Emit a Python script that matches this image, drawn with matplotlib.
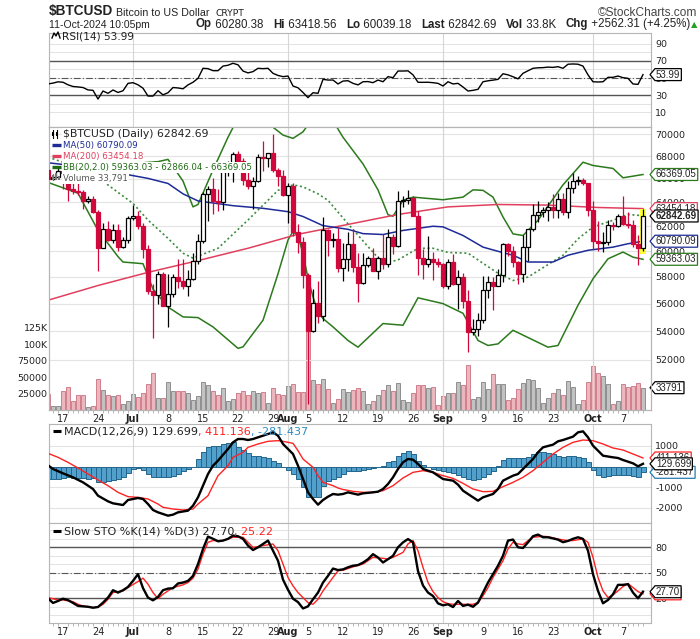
import numpy as np
import matplotlib
matplotlib.use("Agg")
import matplotlib.pyplot as plt
from matplotlib.patches import Rectangle
from matplotlib.lines import Line2D
from matplotlib.path import Path
from matplotlib.ticker import NullLocator, FixedLocator

# day 0 = Mon 17 Jun 2024; the series runs Fri 14 Jun (-3) .. Fri 11 Oct 2024 (116)
first_day = -3

opens = [66750, 66010, 66190, 66640, 66490, 65140, 64960, 64830, 64100, 64260,
         63160, 60280, 61800, 60860, 61680, 60320, 60890,
         62680, 62850, 62030, 60170, 56900, 56660, 58230, 55850, 56700, 58000,
         57700, 57350, 57880, 59200, 60800, 64700, 65100, 64100, 63980, 66700,
         67150, 68170, 67580, 65930, 65370, 65800, 67900, 67810, 68240, 66800, 66200,
         64620, 65350, 61500, 60700, 58120, 54020, 56030, 55130, 61710, 60880,
         60950, 58710, 59350, 60600, 58740, 57560, 58880, 59480, 58480, 59490,
         59010, 61160, 60380, 64090, 64180, 64330, 62880, 59500, 59030, 59360, 59120,
         58970, 57300, 59130, 57480, 57970, 56160, 53960, 54150, 54840, 57040,
         57650, 57340, 58130, 60570, 60000, 59180, 58200, 60310, 61760, 62950,
         63200, 63350, 63580, 63330, 64260, 63140, 65180, 65800, 65880, 65600,
         63330, 60800, 60630, 60750, 62080, 62060, 62820, 62220, 62130, 60580, 60280.38]
highs = [67300, 66400, 66990, 67250, 66560, 65700, 66480, 65070, 64500, 64500,
         63370, 62300, 62440, 62200, 62150, 61100, 62880,
         63780, 63250, 62260, 60490, 57500, 58470, 58380, 58200, 58260, 59420,
         59400, 58500, 59820, 61400, 64900, 65370, 66100, 65100, 67400, 67600,
         68400, 68480, 67800, 67100, 66150, 68200, 69400, 68300, 70000, 66980, 66800,
         65600, 65600, 62200, 61100, 58300, 57050, 57720, 62730, 61800, 61460,
         61840, 60680, 61570, 61780, 59850, 59850, 59650, 60270, 59600, 61400,
         61800, 61400, 64950, 64500, 65000, 64480, 63240, 60200, 61180, 59900, 59440,
         59060, 59420, 59800, 58500, 58300, 56990, 54850, 55300, 58100, 58040,
         57990, 58580, 60650, 60610, 60390, 59210, 61320, 61790, 63870, 64100,
         63550, 64000, 64700, 64800, 64800, 65800, 66500, 66260, 66070, 65650,
         64130, 62400, 61500, 62480, 62370, 62970, 64480, 63200, 62530, 61300, 63418.56]
lows = [65050, 65870, 66060, 65100, 64060, 64700, 64560, 63400, 63940, 63080,
        58470, 60240, 60820, 60660, 60050, 60290, 60630,
        62520, 61800, 59450, 56750, 53500, 56000, 55800, 54300, 56500, 57170,
        57100, 56600, 57760, 59000, 60630, 62400, 63000, 63240, 63300, 66230,
        65750, 66600, 65450, 65100, 63440, 65750, 66700, 67070, 66550, 65330, 64500,
        62300, 61200, 59850, 57200, 49050, 53950, 54580, 54730, 59600, 60300,
        58410, 57670, 58480, 58400, 56100, 57450, 58800, 58430, 57850, 58600,
        58800, 59800, 60350, 63600, 63800, 62850, 58130, 57860, 58800, 57800, 58750,
        57200, 57120, 57420, 55600, 55700, 52550, 53750, 53650, 54600, 56400,
        55560, 57340, 57650, 59600, 58730, 57490, 57650, 59200, 61600, 62380,
        62790, 62400, 62660, 62700, 62960, 62670, 64800, 65420, 65430, 62880,
        60200, 59990, 59900, 60470, 61700, 61900, 62130, 61840, 60300, 58900, 60039.18]
closes = [66010, 66190, 66640, 66490, 65140, 64960, 64830, 64100, 64260, 63160,
          60280, 61800, 60860, 61680, 60320, 60890, 62680,
          62850, 62030, 60170, 56900, 56660, 58230, 55850, 56700, 58000, 57700,
          57350, 57880, 59200, 60800, 64700, 65100, 64100, 63980, 66700, 67150,
          68170, 67580, 65930, 65370, 65800, 67900, 67810, 68240, 66800, 66200, 64620,
          65350, 61500, 60700, 58120, 54020, 56030, 55130, 61710, 60880, 60950,
          58710, 59350, 60600, 58740, 57560, 58880, 59480, 58480, 59490, 59010,
          61160, 60380, 64090, 64180, 64330, 62880, 59500, 59030, 59360, 59120, 58970,
          57300, 59130, 57480, 57970, 56160, 53960, 54150, 54840, 57040, 57650,
          57340, 58130, 60570, 60000, 59180, 58200, 60310, 61760, 62950, 63200,
          63350, 63580, 63330, 64260, 63140, 65180, 65800, 65880, 65600, 63330,
          60800, 60630, 60750, 62080, 62060, 62820, 62220, 62130, 60580, 60280, 62842.69]
volumes = [24500, 6800, 6800, 29500, 35600, 12900, 22000, 22000, 5300, 6800,
           47200, 31000, 23000, 21500, 23000, 9300, 12900,
           24500, 19400, 26000, 39600, 56300, 18600, 18600, 42700, 29500, 28700,
           29500, 26000, 14400, 20500, 43000, 38100, 28700, 22000, 33600, 12900,
           16900, 26000, 29500, 22000, 29500, 25500, 27000, 10900, 33600, 24500, 23000,
           37100, 39600, 27000, 28000, 130000, 44700, 39600, 47200, 32000, 10900,
           16900, 32000, 27500, 30600, 34000, 29000, 9800, 13900, 23000, 30600,
           38100, 29000, 41100, 15400, 11400, 25500, 38100, 38100, 33000, 35100, 7800,
           21500, 25500, 26500, 42700, 38100, 68500, 16400, 19000, 42700, 31600,
           55300, 39700, 39700, 14400, 18500, 32000, 40600, 47200, 45700, 33600,
           10900, 18500, 26000, 32000, 23000, 43200, 35600, 9400, 14400, 42200,
           67400, 55800, 50800, 39700, 9400, 13400, 39700, 35600, 37100, 41200, 33791]

# overlays: (day, value) vertices
ma50_days = [-3, 5, 13, 17, 21, 24, 27, 34, 40, 45, 48, 52, 57, 60, 64, 68, 74, 76, 80, 84, 87, 90, 93, 98, 101, 105, 110, 113, 116]
ma50_vals = [67400, 67000, 66350, 66030, 65590, 64700, 64100, 63700, 63480, 63200, 62800, 62050, 61750, 61400,
             61330, 61660, 62000, 61950, 61250, 60320, 59990, 59680, 59150, 59150, 59680, 60070, 60320, 60590, 60790.09]
ma200_days = [-3, 7, 17, 27, 37, 47, 57, 67, 77, 87, 97, 107, 116]
ma200_vals = [56250, 57350, 58350, 59260, 60230, 61350, 62150, 62970, 63600, 63800, 63750, 63550, 63454.18]
bb_up_days = [-3, 7, 11, 16, 19, 21, 24, 26, 27, 30, 33, 35, 41, 44, 46, 48, 50, 53, 56, 60, 63, 65, 66, 68, 70,
              76, 80, 82, 84, 86, 88, 90, 92, 95, 100, 104, 106, 110, 112, 116]
bb_up_vals = [71500, 69500, 68200, 67400, 67500, 67700, 65800, 63600, 63800, 66760, 69700, 71500, 71000, 69900,
              69600, 70200, 71500, 72000, 69700, 67300, 65040, 62950, 62820, 64150, 64420, 64200, 64420, 65040,
              65000, 64420, 62760, 61380, 61250, 62490, 65470, 67450, 67160, 66900, 66080, 66369.05]
bb_mid_days = [-3, 3, 9, 14, 17, 21, 24, 26, 31, 37, 43, 46, 48, 51, 53, 57, 61, 64, 67, 71, 74, 77, 81, 84,
               87, 90, 93, 100, 103, 106, 110, 113, 116]
bb_mid_vals = [67900, 67000, 65460, 63890, 62510, 61020, 59840, 59450, 60230, 62510, 65000, 65470, 65300, 64700,
               64150, 62200, 60360, 59050, 59310, 60230, 60230, 59900, 59840, 59050, 58280, 57730, 57990, 59680,
               60980, 61940, 62490, 62970, 62866.04]
bb_lo_days = [-3, 3, 7, 11, 12, 16, 18, 21, 24, 27, 30, 35, 36, 40, 43, 45, 46, 47, 48, 49, 50, 51, 52, 54,
              57, 59, 64, 68, 71, 76, 80, 83, 85, 87, 90, 97, 99, 103, 106, 109, 112, 114, 116]
bb_lo_vals = [65680, 64750, 61670, 59570, 59150, 59020, 57080, 55750, 55030, 54980, 54310, 52800, 52900, 54790,
              58240, 60890, 61580, 61200, 59800, 57900, 56500, 55400, 54910, 54310, 53350, 52880, 54550, 54430,
              56430, 56000, 55290, 53350, 53000, 53110, 54070, 52880, 53000, 55880, 57860, 59400, 59930, 59530,
              59363.03]

rsi = [43, 44, 45.5, 45, 42, 40, 39.5, 38.8, 36, 35.5,
       25.3, 34.7, 32, 35.9, 33, 35, 43.7,
       44.5, 42, 38, 28.8, 28.8, 35.1, 30.2, 32.7, 38.8, 38.3,
       37.3, 41.9, 45, 49.6, 61.4, 61, 58.6, 58.6, 64, 65,
       67.3, 65.5, 58.2, 56, 57.5, 61.4, 61, 61.4, 55.5, 53, 51.6,
       52.3, 40.6, 38.5, 33, 26.9, 32.7, 32, 48.4, 47.6, 47.6,
       43, 46.4, 46.8, 43.7, 41.9, 45.6, 45.8, 44.5, 47.6, 45.6,
       51.6, 50.4, 58.2, 58.2, 58.4, 53.7, 45, 44.9, 45, 44.5, 43.7,
       40.6, 45.6, 43, 43.7, 39.4, 34.7, 35.5, 36.7, 45.6, 46.7,
       47.5, 48.4, 55, 53.7, 51.5, 49, 55.5, 58.5, 61.4, 62,
       62.2, 62.8, 62.5, 63.3, 61.4, 66.2, 66.5, 66.2, 64, 53.7,
       45.6, 45.3, 45.6, 50.8, 50.8, 52.3, 50.4, 49.6, 43, 42.5, 53.99]

macd_days = [-3, -2, 0, 2, 4, 5, 6, 7, 9, 10, 12, 13, 15, 16, 17, 18, 19, 21, 22, 23, 25, 26, 27, 28, 29, 30, 31,
             33, 34, 35, 36, 37, 38, 39, 40, 42, 43, 44, 46, 47, 48, 49, 50, 51, 52, 53, 54, 55, 56, 57, 59, 60,
             62, 63, 64, 65, 66, 67, 68, 69, 70, 71, 72, 74, 75, 76, 78, 79, 80, 82, 83, 84, 86, 87, 88, 90, 91,
             92, 94, 95, 96, 98, 99, 100, 102, 103, 104, 105, 106, 107, 108, 110, 111, 112, 114, 115, 116]
macd_vals = [60, -121, -330, -523, -765, -925, -1087, -1409, -1682, -1779, -1860, -1618, -1521, -1570, -1812,
             -2101, -2214, -2375, -2326, -2214, -2133, -1892, -1489, -926, -362, 40, 282, 845, 1167, 1328, 1328,
             1280, 1328, 1409, 1489, 1650, 1489, 1087, 604, 40, -604, -1248, -1570, -1843, -1618, -1457, -1328,
             -1360, -1328, -1248, -1360, -1296, -1248, -1216, -1087, -845, -523, -121, 201, 362, 330, 121, -121,
             -282, -443, -604, -684, -877, -1167, -1489, -1650, -1489, -1328, -1087, -684, -443, -362, -121, 362,
             684, 926, 1055, 1216, 1280, 1441, 1650, 1699, 1409, 1006, 765, 523, 443, 411, 314, 153, 8, 129.699]
signal_days = [-3, -1, 1, 3, 5, 7, 9, 11, 13, 15, 17, 19, 20, 22, 24, 26, 27, 29, 30, 31, 33, 34, 36, 37, 39, 41,
               43, 44, 46, 47, 48, 50, 51, 52, 54, 55, 56, 58, 60, 62, 64, 66, 68, 70, 72, 74, 76, 78, 80, 82,
               84, 86, 87, 88, 90, 92, 94, 96, 98, 100, 102, 104, 106, 108, 110, 112, 114, 116]
signal_vals = [636, 443, 201, -72, -362, -652, -926, -1248, -1457, -1489, -1570, -1812, -1972, -2053, -2101,
               -2053, -1812, -1409, -926, -443, 40, 443, 684, 926, 1087, 1216, 1248, 1216, 1119, 765, 362, -40,
               -443, -765, -926, -1038, -1110, -1200, -1248, -1248, -1167, -926, -555, -282, -201, -282, -443,
               -572, -813, -1087, -1216, -1200, -1087, -974, -765, -523, -201, 201, 604, 926, 1167, 1280, 1248,
               1087, 894, 797, 604, 411.136]
macd_hist = [-604, -604, -604, -572, -523, -556, -556, -572, -604, -572,
             -765, -765, -716, -652, -604, -523, -330,
             -121, -80, -170, -354, -483, -483, -523, -483, -443, -354,
             -241, -121, 0, 362, 684, 958, 1006, 1006, 1087, 1119,
             1167, 926, 797, 636, 523, 491, 443, 394, 282, 153, -40,
             -161, -354, -604, -1006, -1457, -1489, -1489, -926, -716, -604,
             -491, -362, -220, -201, -233, -169, -121, -72, 0, 40,
             201, 282, 523, 636, 733, 604, 250, 89, 0, -121, -169,
             -201, -282, -330, -394, -523, -604, -652, -604, -491, -362,
             -201, 40, 314, 411, 411, 411, 411, 475, 604, 684,
             684, 652, 604, 523, 475, 491, 491, 475, 411, 201,
             -169, -394, -491, -443, -394, -394, -394, -394, -443, -491, -281.437]

sto_k = [20, 14.5, 16.8, 19.5, 17.8, 14.5, 11, 10.5, 10, 8.9,
         9.7, 14.9, 20.8, 29.5, 26.7, 29.5, 33.4,
         40.5, 48.4, 32, 20.8, 17.6, 21.6, 29.5, 31.4, 31.8, 37.4,
         38.5, 40.5, 46.4, 60.3, 78, 92.6, 90, 87.1, 87.9, 89.9,
         93.8, 93, 89.9, 82, 76.8, 80, 83.9, 87.9, 76, 64.2, 42,
         30, 19.5, 15.5, 8, 10.5, 18.8, 26.7, 38.5, 46.4, 55,
         53.2, 54, 56.5, 58.3, 59.1, 62, 66, 71.9, 68, 62.1,
         66, 70, 80, 85.8, 89.7, 85.8, 52, 35, 26.7, 22.7, 14,
         11.7, 12.9, 9.7, 16.8, 11, 12.5, 10, 14.9, 26.7, 38.5,
         48.4, 58.3, 70.1, 87.9, 89.1, 80, 79.2, 85.8, 93, 95,
         91.8, 91.8, 90.5, 89, 86, 87.5, 90, 91.8, 89.9, 76,
         48.4, 28.7, 14.1, 18, 24.7, 35.8, 35.8, 36.6, 26.7, 20, 27.70]
sto_d_days = [-3, -1, 0, 2, 3, 4, 6, 7, 8, 9, 10, 12, 13, 15, 16, 17, 18, 19, 20, 21, 22, 24, 25, 26, 27, 28,
              29, 30, 32, 33, 34, 36, 37, 38, 39, 40, 42, 43, 44, 45, 46, 47, 48, 49, 50, 51, 52, 53, 54, 55,
              56, 58, 60, 62, 64, 65, 66, 68, 69, 70, 71, 72, 73, 74, 75, 76, 77, 78, 82, 83, 84, 85, 86, 87,
              88, 89, 90, 91, 92, 93, 94, 96, 97, 98, 100, 101, 102, 104, 105, 106, 107, 108, 109, 110, 111,
              112, 113, 114, 115, 116]
sto_d_vals = [20.8, 18, 18, 16, 12.9, 10.9, 8.9, 9.7, 12.9, 18.8, 26.7, 28.7, 32.6, 39.7, 43.7, 36.6, 26.7,
              19.6, 24.7, 28.7, 32.6, 35.8, 38.5, 43.7, 54.3, 72.1, 85.9, 87.9, 87.9, 89.9, 91.8, 91.8, 85.9,
              80, 80.8, 82, 83.9, 76, 60.3, 44.5, 34.6, 26.7, 20.8, 14.9, 12.9, 18.8, 28.7, 36.6, 44.5, 52.4,
              53, 57, 60.3, 68.2, 67, 66.2, 68.2, 74, 84, 87.9, 76, 56.3, 38.5, 27.9, 20.8, 16, 13.7, 12.9,
              12.9, 14.9, 22.8, 32.6, 44.5, 54.3, 64.2, 78, 85.9, 84, 83.2, 87.9, 91.8, 93, 92.5, 91, 88.7,
              87.9, 87.9, 89.9, 85.9, 68.2, 44.5, 28.7, 20.8, 24, 28.7, 33.8, 37.4, 32.6, 27.9, 25.22]

tick_days = [0, 7, 14, 21, 28, 35, 42, 45, 49, 56, 63, 70, 76, 84, 91, 98, 106, 112]
tick_labels = ['17', '24', 'Jul', '8', '15', '22', '29', 'Aug', '5', '12', '19', '26', 'Sep', '9', '16', '23', 'Oct', '7']
month_days = [14, 45, 76, 106]

RED = '#d1083c'
NAVY = '#1d2b98'
MA200_C = '#e0405e'
GREEN = '#2b7a1c'
TXT = '#222222'
GRID = '#e3e3e3'
FRAME = '#b5b5b5'
ARIAL = 'Liberation Sans'

plt.rcParams['font.family'] = ['DejaVu Sans']
plt.rcParams['axes.unicode_minus'] = False

days = np.arange(first_day, first_day + len(closes))
o = np.array(opens, float)
h = np.array(highs, float)
l = np.array(lows, float)
c = np.array(closes, float)
v = np.array(volumes, float)

W, H = 700, 639
fig = plt.figure(figsize=(W / 100, H / 100), dpi=100)
renderer = fig.canvas.get_renderer()


def panel(top, bot):
    return fig.add_axes([49 / W, 1 - bot / H, 602 / W, (bot - top) / H])


ax_rsi = panel(33, 127)
ax_vol = panel(127, 410)
ax = panel(127, 410)
ax_macd = panel(424, 523)
ax_sto = panel(523, 623)
ax.set_zorder(ax_vol.get_zorder() + 1)
ax.patch.set_visible(False)

xlim = (-2.8, 117.6)
for a in (ax_rsi, ax_vol, ax, ax_macd, ax_sto):
    a.set_xlim(*xlim)
    for s in a.spines.values():
        s.set_color(FRAME)
        s.set_linewidth(0.8)
    a.tick_params(axis='both', labelsize=6.8, colors=TXT, length=0, pad=3)
    a.set_xticks([])
for a in (ax_rsi, ax_vol, ax_macd, ax_sto):
    for d in month_days:
        a.axvline(d, color='#d6d6d6', lw=0.8, zorder=0.5)

# ---- RSI ----
ax_rsi.set_ylim(-7.6, 102.9)
for lv in range(10, 100, 10):
    ax_rsi.axhline(lv, color=GRID, lw=0.7, zorder=0.4)
ax_rsi.axhline(70, color='#555555', lw=1.0)
ax_rsi.axhline(30, color='#555555', lw=1.0)
ax_rsi.axhline(50, color='#555555', lw=0.8, ls=(0, (6, 2, 1, 2)))
ax_rsi.plot(days, rsi, color='black', lw=1.0, zorder=3)
ax_rsi.yaxis.tick_right()
ax_rsi.set_yticks([10, 30, 50, 70, 90])

# ---- price + volume ----
ax.set_yscale('log')
ax.set_ylim(48686, 70648)
price_ticks = list(range(52000, 70001, 2000))
ax.set_yticks(price_ticks)
ax.set_yticklabels([str(p) for p in price_ticks])
ax.yaxis.set_minor_locator(NullLocator())
ax.yaxis.tick_right()
for p in price_ticks:
    ax.axhline(p, color=GRID, lw=0.8, zorder=0.5)

ax_vol.set_ylim(0, 428800)
down = np.r_[True, c[1:] < c[:-1]]
vol_face = np.where(down, '#ebb7be', '#c2c2c2')
vol_edge = np.where(down, '#d0808c', '#8f8f8f')
ax_vol.bar(days, v, width=0.92, color=vol_face, edgecolor=vol_edge, lw=0.7, zorder=2)
ax_vol.set_yticks([25000, 50000, 75000, 100000, 125000])
ax_vol.set_yticklabels(['25000', '50000', '75000', '100K', '125K'])
ax_vol.tick_params(axis='y', pad=1)

ax.add_patch(Rectangle((115.45, 59800), 1.1, 63450 - 59800, facecolor='#ffff3a', edgecolor='none', zorder=2.5))
ax.plot(bb_up_days, bb_up_vals, color=GREEN, lw=1.1, zorder=2)
ax.plot(bb_lo_days, bb_lo_vals, color=GREEN, lw=1.1, zorder=2)
ax.plot(bb_mid_days, bb_mid_vals, color='#3c8c3c', lw=1.2, ls=(0, (1.2, 1.6)), zorder=2)
ax.plot(ma200_days, ma200_vals, color=MA200_C, lw=1.1, zorder=2)
ax.plot(ma50_days, ma50_vals, color=NAVY, lw=1.1, zorder=2)

up = c >= o
body_face = np.where(up, 'white', RED)
body_edge = np.where(up, 'black', RED)
ax.vlines(days, l, h, colors=body_edge, lw=0.9, zorder=3)
ax.bar(days, np.maximum(np.abs(c - o), 1), bottom=np.minimum(o, c), width=0.78,
       color=body_face, edgecolor=body_edge, lw=0.9, zorder=4)


def date_axis(a):
    a.set_xticks(tick_days)
    a.set_xticklabels(tick_labels)
    a.xaxis.set_minor_locator(FixedLocator(list(days)))
    a.tick_params(axis='x', which='major', length=0, pad=3, labelsize=7)
    a.tick_params(axis='x', which='minor', length=2, color='#aaaaaa')
    for t in a.get_xticklabels():
        if t.get_text().isalpha():
            t.set_fontweight('bold')


date_axis(ax)
for d in month_days:
    ax.axvline(d, color='#d6d6d6', lw=0.8, zorder=0.5)

# ---- MACD ----
ax_macd.set_ylim(-2729, 2053)
for lv in (1000, 0, -1000, -2000):
    ax_macd.axhline(lv, color=GRID, lw=0.8, zorder=0.4)
ax_macd.bar(days, macd_hist, width=1.0, color='#52a0cc', edgecolor='#23658c', lw=0.7, zorder=2)
ax_macd.plot(signal_days, signal_vals, color='#ff2222', lw=1.0, zorder=3)
ax_macd.plot(macd_days, macd_vals, color='black', lw=1.7, zorder=4)
ax_macd.yaxis.tick_right()
ax_macd.set_yticks([1000, 0, -1000, -2000])

# ---- Slow stochastics ----
ax_sto.set_ylim(-9.1, 108.6)
for lv in range(0, 101, 10):
    ax_sto.axhline(lv, color=GRID, lw=0.7, zorder=0.4)
ax_sto.axhline(80, color='#555555', lw=1.0)
ax_sto.axhline(20, color='#555555', lw=1.0)
ax_sto.axhline(50, color='#555555', lw=0.8, ls=(0, (6, 2, 1, 2)))
ax_sto.plot(sto_d_days, sto_d_vals, color='#ff2222', lw=1.0, zorder=3)
ax_sto.plot(days, sto_k, color='black', lw=1.7, zorder=4)
ax_sto.yaxis.tick_right()
ax_sto.set_yticks([20, 50, 80])
date_axis(ax_sto)


# ---- value tags at the right edge (box with a left point) ----
def tag_shape(x0, y0, width, height, mutation_size):
    pad = 0.1 * mutation_size
    x0, y0, width, height = x0 - pad, y0 - pad, width + 2 * pad, height + 2 * pad
    tip = height * 0.42
    return Path([(x0, y0), (x0 + width, y0), (x0 + width, y0 + height), (x0, y0 + height),
                 (x0 - tip, y0 + height / 2), (x0, y0)], closed=True)


def tag(a, val, txt, edge, color=TXT, bold=False):
    a.annotate(txt, xy=(1, val), xycoords=('axes fraction', 'data'), xytext=(3.6, 0),
               textcoords='offset points', ha='left', va='center', fontsize=7, family=ARIAL, color=color,
               fontweight='bold' if bold else 'normal', annotation_clip=False, zorder=20,
               bbox=dict(boxstyle=tag_shape, facecolor='white', edgecolor=edge, lw=0.9))


tag(ax_rsi, 53.99, '53.99', 'black')
tag(ax, 66369.05, '66369.05', GREEN)
tag(ax, 63454.18, '63454.18', MA200_C)
tag(ax, 62842.69, '62842.69', 'black', bold=True)
tag(ax, 60790.09, '60790.09', NAVY)
tag(ax, 59363.03, '59363.03', GREEN)
tag(ax_vol, 33791, '33791', 'black')
tag(ax_macd, 411.136, '411.136', '#ff2222')
tag(ax_macd, -281.437, '-281.437', '#2a7bb0')
tag(ax_macd, 129.699, '129.699', 'black')
tag(ax_sto, 25.22, '25.22', '#ff2222')
tag(ax_sto, 27.70, '27.70', 'black')


# ---- text runs placed piece by piece at pixel positions ----
def chain(x, y, parts, bg=False, right=None):
    made = []
    for txt, kw in parts:
        opts = dict(fontsize=7, color=TXT, va='baseline', ha='left', zorder=30)
        opts.update(kw)
        if bg:
            opts['bbox'] = dict(facecolor='white', edgecolor='none', pad=0.6)
        t = fig.text(x / W, 1 - y / H, txt, **opts)
        x = t.get_window_extent(renderer).x1
        made.append(t)
    if right is not None:
        shift = (right - x) / W
        for t in made:
            px, py = t.get_position()
            t.set_position((px + shift, py))
    return made


def marker_line(x0, x1, y, color, lw=2.4):
    fig.add_artist(Line2D([x0 / W, x1 / W], [1 - y / H] * 2, color=color, lw=lw,
                          solid_capstyle='butt', zorder=31))


# header
chain(49, 15.5, [('$BTCUSD', dict(fontsize=9.8, fontweight='bold', family=ARIAL)),
                 (' Bitcoin to US Dollar  ', dict(fontsize=7.7, family=ARIAL)),
                 ('CRYPT', dict(fontsize=6.6))])
fig.text(697 / W, 1 - 15.5 / H, '\u00a9StockCharts.com', fontsize=8.6, family=ARIAL, color='#444444',
         ha='right', va='baseline')
fig.text(49 / W, 1 - 27.5 / H, '11-Oct-2024 10:05pm', fontsize=7.5, family=ARIAL, color=TXT, va='baseline')
b = dict(fontsize=8.3, family=ARIAL, fontweight='bold')
n = dict(fontsize=8.3, family=ARIAL)
chain(196, 27.5, [('Op', b), (' 60280.38   ', n), ('Hi', b), (' 63418.56   ', n), ('Lo', b), (' 60039.18   ', n),
                  ('Last', b), (' 62842.69   ', n), ('Vol', b), (' 33.8K   ', n), ('Chg', b),
                  (' +2562.31 (+4.25%)', n), ('\u25b2', dict(fontsize=6, color='#22a022'))], right=697)

# panel legends
chain(62, 39.5, [('RSI(14) 53.99', dict(fontsize=7.6))])
fig.add_artist(Line2D([52 / W, 54 / W, 56 / W, 58 / W, 60 / W],
                      [1 - 38 / H, 1 - 33 / H, 1 - 36 / H, 1 - 32 / H, 1 - 38 / H],
                      color='black', lw=1.0, zorder=31))

chain(63, 137, [('$BTCUSD (Daily) 62842.69', dict(fontsize=7.8))], bg=True)
for dx in (53, 57):
    fig.add_artist(Line2D([dx / W] * 2, [1 - 130 / H, 1 - 138 / H], color='black', lw=0.8, zorder=31))
    fig.add_artist(Rectangle(((dx - 1.2) / W, 1 - 136 / H), 2.4 / W, 4 / H, facecolor='black',
                             transform=fig.transFigure, zorder=31))
legend_rows = [('MA(50) 60790.09', NAVY, 148), ('MA(200) 63454.18', MA200_C, 159),
               ('BB(20,2.0) 59363.03 - 62866.04 - 66369.05', '#1e6b12', 170)]
for txt, col, yy in legend_rows:
    chain(63, yy, [(txt, dict(fontsize=6.2, color=col))], bg=True)
    marker_line(52, 61, yy - 3, col)
chain(63, 181, [('Volume 33,791', dict(fontsize=6.2, color='#555555'))], bg=True)
for dx, hh in ((53, 5), (56, 7), (59, 4)):
    fig.add_artist(Rectangle(((dx - 1) / W, 1 - 180 / H), 2 / W, hh / H, facecolor='#777777',
                             transform=fig.transFigure, zorder=31))

marker_line(53, 61, 431, 'black', lw=2.2)
chain(64, 434.5, [('MACD(12,26,9) 129.699', dict(fontsize=8)), (', 411.136', dict(fontsize=8, color='#ff2222')),
                  (', -281.437', dict(fontsize=8, color='#2a8ac0'))])
marker_line(53, 61, 531, 'black', lw=2.2)
chain(64, 535, [('Slow STO %K(14) %D(3) 27.70', dict(fontsize=8)), (', 25.22', dict(fontsize=8, color='#ff2222'))])

fig.savefig('out.png', dpi=100, facecolor='white')
